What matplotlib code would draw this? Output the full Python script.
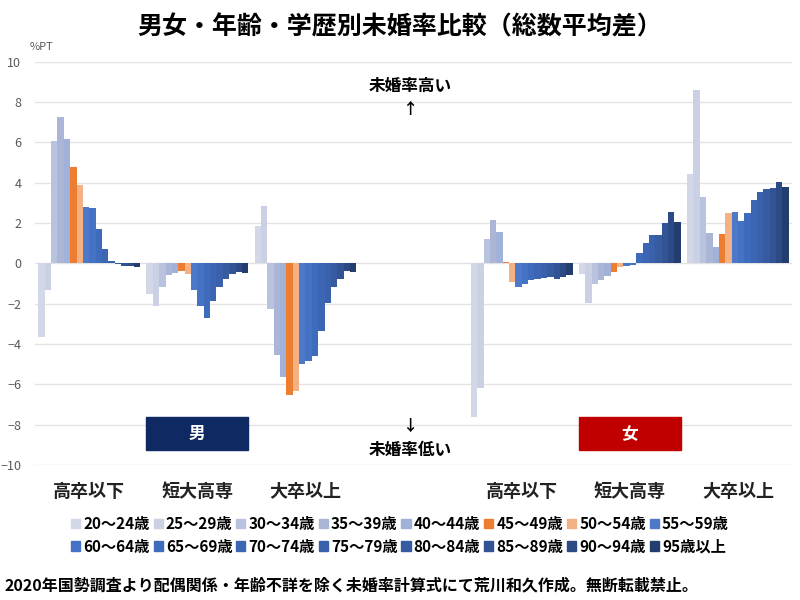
import matplotlib
matplotlib.use('Agg')
import matplotlib.pyplot as plt
from matplotlib.patches import Patch, Rectangle
import numpy as np

plt.rcParams['font.family'] = ['Noto Sans CJK JP', 'DejaVu Sans']

# categories (4th slot left empty between 男 and 女)
groups = ['高卒以下', '短大高専', '大卒以上', '', '高卒以下', '短大高専', '大卒以上']
ages = ['20〜24歳', '25〜29歳', '30〜34歳', '35〜39歳', '40〜44歳', '45〜49歳',
        '50〜54歳', '55〜59歳', '60〜64歳', '65〜69歳', '70〜74歳', '75〜79歳',
        '80〜84歳', '85〜89歳', '90〜94歳', '95歳以上']

# difference from overall average, %PT (one list per group)
m_hs = [-3.65, -1.33, 6.05, 7.25, 6.19, 4.78, 3.9, 2.79, 2.75, 1.69, 0.71, 0.1,
        -0.05, -0.12, -0.15, -0.2]
m_jc = [-1.54, -2.1, -1.16, -0.6, -0.5, -0.4, -0.55, -1.3, -2.1, -2.7, -1.86, -1.16,
        -0.75, -0.53, -0.45, -0.47]
m_univ = [1.86, 2.85, -2.24, -4.53, -5.64, -6.52, -6.33, -5.0, -4.84, -4.6, -3.37, -1.96,
          -1.19, -0.75, -0.36, -0.41]
empty = [0.0] * 16
f_hs = [-7.63, -6.19, 1.19, 2.14, 1.56, 0.05, -0.9, -1.19, -1.04, -0.83, -0.75, -0.7,
        -0.66, -0.75, -0.66, -0.58]
f_jc = [-0.55, -1.94, -1.0, -0.8, -0.61, -0.41, -0.2, -0.13, -0.08, 0.5, 1.03, 1.41,
        1.41, 1.99, 2.55, 2.07]
f_univ = [4.44, 8.59, 3.3, 1.49, 0.8, 1.48, 2.49, 2.57, 2.09, 2.52, 3.15, 3.52,
          3.68, 3.76, 4.05, 3.8]

colors = ['#d3d8e8', '#cbd1e4', '#b9c2de', '#abb6d6', '#a0b2da', '#ed7d31', '#f4b183',
          '#4e79c8', '#4472c4', '#3f6bbd', '#3c66b4', '#3a61ab', '#365ba1', '#325495',
          '#2c4b86', '#233d70']

data = np.array([m_hs, m_jc, m_univ, empty, f_hs, f_jc, f_univ])
slot = 17  # 16 bars + 1 gap per category

fig = plt.figure(figsize=(8, 6), dpi=100)
ax = fig.add_axes([0.044, 0.225, 0.946, 0.672])

for i, age in enumerate(ages):
    xs = np.arange(len(groups)) * slot + i
    ax.bar(xs, data[:, i], width=1.0, color=colors[i], linewidth=0, label=age, zorder=2)

ax.set_xlim(-1, len(groups) * slot - 1)
ax.set_ylim(-10, 10)
ax.set_yticks(np.arange(-10, 11, 2))
ax.yaxis.grid(True, color='#e3e3e3', linewidth=1, zorder=0)
ax.set_xticks([])
for s in ax.spines.values():
    s.set_visible(False)
ax.tick_params(axis='y', length=0, labelsize=9, labelcolor='#595959', pad=10)

# category labels under the plot
for g, name in enumerate(groups):
    ax.text(g * slot + 7.5, -11.3, name, ha='center', va='center', fontsize=13,
            fontweight='bold', color='#222222')

# direction hints in the empty slot
mid = 3 * slot + 7.0
ax.text(mid, 8.8, '未婚率高い', ha='center', va='center', fontsize=12, fontweight='bold')
ax.text(mid, 7.65, '↑', ha='center', va='center', fontsize=11, fontweight='bold')
ax.text(mid, -8.05, '↓', ha='center', va='center', fontsize=11, fontweight='bold')
ax.text(mid, -9.25, '未婚率低い', ha='center', va='center', fontsize=12, fontweight='bold')

# sex boxes
for g, label, c in [(1, '男', '#0f2a62'), (5, '女', '#c00000')]:
    x0 = g * slot - 0.5
    ax.add_patch(Rectangle((x0, -9.27), 16, 1.64, color=c, zorder=3))
    ax.text(x0 + 8, -8.45, label, ha='center', va='center', color='white',
            fontsize=12, fontweight='bold', zorder=4)

fig.text(0.5, 0.955, '男女・年齢・学歴別未婚率比較（総数平均差）', ha='center', va='center',
         fontsize=18, fontweight='bold')
fig.text(0.037, 0.922, '%PT', ha='left', va='center', fontsize=8, color='#595959')

# legend filled row by row (2 rows x 8 columns)
order = [k for c in range(8) for k in (c, c + 8)]
handles = [Patch(color=colors[k]) for k in order]
labels = [ages[k] for k in order]
fig.legend(handles, labels, loc='center', bbox_to_anchor=(0.5, 0.108), ncol=8,
           frameon=False, handlelength=0.6, handleheight=0.6,
           handletextpad=0.2, columnspacing=0.25, labelspacing=0.45,
           prop={'weight': 'bold', 'size': 11})

fig.text(0.006, 0.025, '2020年国勢調査より配偶関係・年齢不詳を除く未婚率計算式にて荒川和久作成。無断転載禁止。',
         ha='left', va='center', fontsize=11.5, fontweight='bold')

fig.savefig('out.png', dpi=100)
